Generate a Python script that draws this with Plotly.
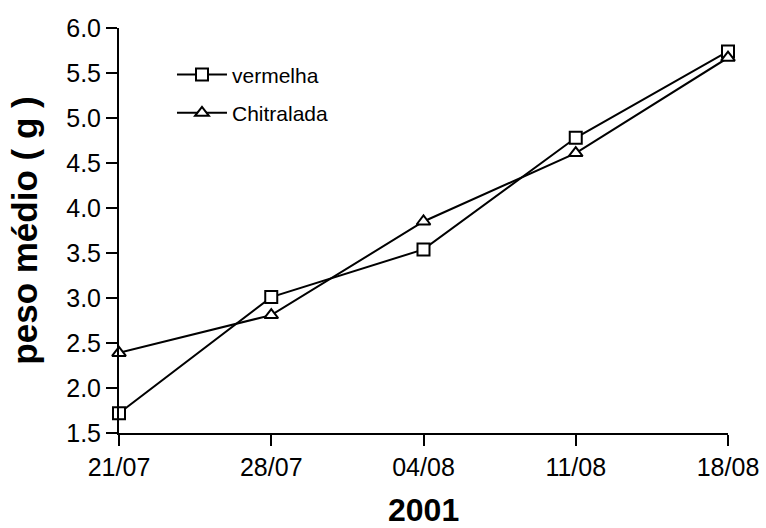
import plotly.graph_objects as go

dates = ["21/07", "28/07", "04/08", "11/08", "18/08"]
vermelha = [1.72, 3.01, 3.54, 4.78, 5.74]
chitralada = [2.39, 2.81, 3.85, 4.61, 5.67]
y_ticks = [1.5, 2.0, 2.5, 3.0, 3.5, 4.0, 4.5, 5.0, 5.5, 6.0]
x_title = "2001"
y_title = "peso médio ( g )"

FONT = "Liberation Sans, Arial, sans-serif"

fig = go.Figure()
fig.add_trace(go.Scatter(
    x=dates, y=vermelha, name="vermelha", mode="lines+markers", legendgroup="a",
    line=dict(color="black", width=2),
    marker=dict(symbol="square", size=12, color="white", line=dict(color="black", width=2)),
    cliponaxis=False,
))
fig.add_trace(go.Scatter(
    x=dates, y=chitralada, name="Chitralada", mode="lines+markers", legendgroup="b",
    line=dict(color="black", width=2),
    marker=dict(symbol="triangle-up", size=12, color="white", line=dict(color="black", width=2)),
    cliponaxis=False,
))

fig.add_annotation(
    text="<b>%s</b>" % x_title, xref="paper", yref="paper", x=0.5, y=-0.189,
    xanchor="center", yanchor="middle", showarrow=False,
    font=dict(size=32, family=FONT, color="black"),
)

fig.update_layout(
    width=766, height=528,
    margin=dict(l=119, r=38, t=28, b=95),
    paper_bgcolor="white", plot_bgcolor="white",
    font=dict(family=FONT, color="black", size=25),
    showlegend=True,
    legend=dict(
        x=0.087, y=0.935, xanchor="left", yanchor="top",
        bgcolor="rgba(0,0,0,0)", font=dict(size=21, family=FONT),
        itemwidth=50, tracegroupgap=8,
    ),
    xaxis=dict(
        type="category", range=[0, 4], automargin=False,
        showline=True, linecolor="black", linewidth=2,
        ticks="outside", ticklen=11, tickwidth=2, tickcolor="black",
        showgrid=False, zeroline=False,
        tickfont=dict(size=25),
    ),
    yaxis=dict(
        range=[1.5, 6.0], tickvals=y_ticks, tickformat=".1f", automargin=False,
        showline=True, linecolor="black", linewidth=2,
        ticks="outside", ticklen=11, tickwidth=2, tickcolor="black",
        showgrid=False, zeroline=False,
        tickfont=dict(size=25),
        title=dict(text="<b>%s</b>" % y_title, font=dict(size=35), standoff=18),
    ),
)

fig.write_html("out.html")
